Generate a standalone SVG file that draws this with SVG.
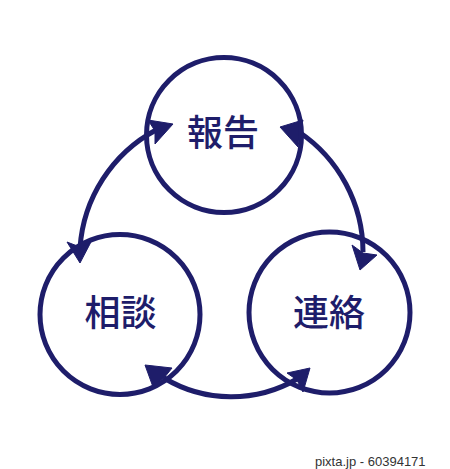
<svg xmlns="http://www.w3.org/2000/svg" width="450" height="469" viewBox="0 0 450 469">
<style>
.ring{fill:none;stroke:#1e1d6a;stroke-width:5}
.arc{fill:none;stroke:#1e1d6a;stroke-width:5;stroke-linecap:butt}
.ah{fill:#1e1d6a;stroke:#1e1d6a;stroke-width:1;stroke-linejoin:miter}
.lbl{font-family:"Noto Sans CJK JP","Noto Sans CJK SC",sans-serif;font-size:36px;font-weight:500;fill:#1e1d6a;text-anchor:middle}
.foot{font-family:"Liberation Sans",Arial,sans-serif;font-size:13px;fill:#333333}
</style>
<rect width="450" height="469" fill="#ffffff"/>
<g id="connectors">
<path class="arc" d="M 80 248 A 145 145 0 0 1 156 130"/>
<path class="arc" d="M 299 132 A 145 145 0 0 1 363 252"/>
<path class="arc" d="M 297 379 A 130 130 0 0 1 164 378"/>
<polygon class="ah" points="173,124 148,120 155,131 155,144"/>
<polygon class="ah" points="280,127 303,120 300,133 298,147"/>
<polygon class="ah" points="80,263 67,242 80,247 92,240"/>
<polygon class="ah" points="360,270 352,245 363,253 377,255"/>
<polygon class="ah" points="145,365 172,368 164,378 153,387"/>
<polygon class="ah" points="310,368 287,373 297,380 303,392"/>
</g>
<g id="node-houkoku">
<circle class="ring" cx="224" cy="135" r="77.5"/>
<text class="lbl" x="223" y="146">報告</text>
</g>
<g id="node-soudan">
<circle class="ring" cx="120" cy="314.5" r="80"/>
<text class="lbl" x="120.5" y="326">相談</text>
</g>
<g id="node-renraku">
<circle class="ring" cx="329.5" cy="312.5" r="80.5"/>
<text class="lbl" x="329" y="326">連絡</text>
</g>
<text class="foot" x="315" y="466">pixta.jp - 60394171</text>
</svg>
